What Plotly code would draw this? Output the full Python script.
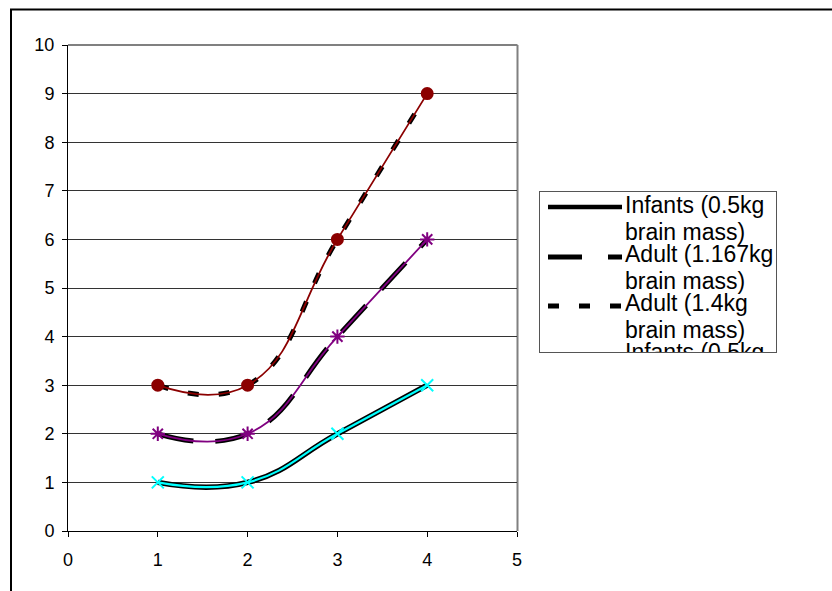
import plotly.graph_objects as go

# Data
x_vals = [1, 2, 3, 4]
infants = [1, 1, 2, 3]
adult_1167 = [2, 2, 4, 6]
adult_14 = [3, 3, 6, 9]
series_names = ["Infants (0.5kg brain mass)",
                "Adult (1.167kg brain mass)",
                "Adult (1.4kg brain mass)",
                "Infants (0.5kg brain mass)"]
x_ticks = [0, 1, 2, 3, 4, 5]
y_ticks = list(range(0, 11))

W, H = 832, 591
FONT = "Liberation Sans, Arial, sans-serif"
SMOOTH = 1.3
LEG_SIZE = 23


def px_x(v):
    return v / W


def px_y(v):
    return 1 - v / H


fig = go.Figure()

# thick black smoothed lines underneath
black_styles = [(infants, "solid", 5.5),
                (adult_1167, "36px,22px", 5),
                (adult_14, "11px,20px", 5)]
for ys, dash, w in black_styles:
    fig.add_trace(go.Scatter(
        x=x_vals, y=ys, mode="lines",
        line=dict(color="black", width=w, dash=dash, shape="spline", smoothing=SMOOTH),
        hoverinfo="skip", showlegend=False))

# thin coloured lines with markers on top
colour_styles = [(infants, "#00FFFF", "x-thin-open", 12, 2.2),
                 (adult_1167, "#800080", "asterisk-open", 12, 1.8),
                 (adult_14, "#8B0000", "circle", 11, 1.8)]
for ys, col, sym, sz, lw in colour_styles:
    fig.add_trace(go.Scatter(
        x=x_vals, y=ys, mode="lines+markers",
        line=dict(color=col, width=lw, shape="spline", smoothing=SMOOTH),
        marker=dict(symbol=sym, size=sz, color=col, line=dict(color=col, width=2)),
        hoverinfo="skip", showlegend=False))

# legend drawn in its own small subplot (pixel coordinates) so overflow is clipped
sample_x = [548, 622]
sample_rows = [(207, "solid", 4.5), (257, "34px,26px", 5), (306, "11px,20px", 5)]
for yy, dash, w in sample_rows:
    fig.add_trace(go.Scatter(
        x=sample_x, y=[yy, yy], mode="lines", xaxis="x2", yaxis="y2",
        line=dict(color="black", width=w, dash=dash),
        hoverinfo="skip", showlegend=False))

legend_lines = []
for name in series_names:
    first, rest = name.split(" brain")
    legend_lines += [first, "brain" + rest]
baselines = [215, 242, 264, 291, 313, 340, 362, 389]
fig.add_trace(go.Scatter(
    x=[625] * len(legend_lines), y=[b - 0.35 * LEG_SIZE for b in baselines],
    mode="text", text=legend_lines, textposition="middle right",
    textfont=dict(family=FONT, size=LEG_SIZE, color="black"),
    xaxis="x2", yaxis="y2", cliponaxis=True,
    hoverinfo="skip", showlegend=False))

axis_font = dict(family=FONT, size=18, color="black")
fig.update_layout(
    width=W, height=H,
    margin=dict(l=0, r=0, t=0, b=0, pad=0, autoexpand=False),
    paper_bgcolor="white", plot_bgcolor="white",
    showlegend=False,
    xaxis=dict(domain=[px_x(68), px_x(517)], range=[0, 5], tickvals=x_ticks,
               ticks="outside", ticklen=5, tickcolor="black", tickwidth=1,
               ticklabelstandoff=7,
               showline=True, linecolor="black", linewidth=1, automargin=False,
               showgrid=False, zeroline=False, tickfont=axis_font, fixedrange=True),
    yaxis=dict(domain=[px_y(531), px_y(45)], range=[0, 10], tickvals=y_ticks,
               ticks="outside", ticklen=5, tickcolor="black", tickwidth=1,
               ticklabelstandoff=4,
               showline=True, linecolor="black", linewidth=1, automargin=False,
               showgrid=True, gridcolor="#333333", gridwidth=1,
               zeroline=False, tickfont=axis_font, fixedrange=True),
    xaxis2=dict(domain=[px_x(540), px_x(776)], range=[540, 776], anchor="y2",
                showline=True, mirror=True, linecolor="#555555", linewidth=1,
                showgrid=False, zeroline=False, showticklabels=False, ticks="",
                automargin=False, fixedrange=True),
    yaxis2=dict(domain=[px_y(352), px_y(192)], range=[352, 192], anchor="x2",
                showline=True, mirror=True, linecolor="#555555", linewidth=1,
                showgrid=False, zeroline=False, showticklabels=False, ticks="",
                automargin=False, fixedrange=True),
    shapes=[
        # plot-area frame (top and right edges)
        dict(type="line", xref="paper", yref="paper",
             x0=px_x(68), x1=px_x(517.5), y0=px_y(45), y1=px_y(45),
             line=dict(color="#808080", width=2), layer="below"),
        dict(type="line", xref="paper", yref="paper",
             x0=px_x(517.5), x1=px_x(517.5), y0=px_y(45), y1=px_y(531),
             line=dict(color="#808080", width=2), layer="below"),
        # chart-area border
        dict(type="rect", xref="paper", yref="paper",
             x0=px_x(11), x1=px_x(845), y0=px_y(600), y1=px_y(9.5),
             line=dict(color="black", width=2), fillcolor="rgba(0,0,0,0)"),
    ],
)

fig.write_html("out.html")
